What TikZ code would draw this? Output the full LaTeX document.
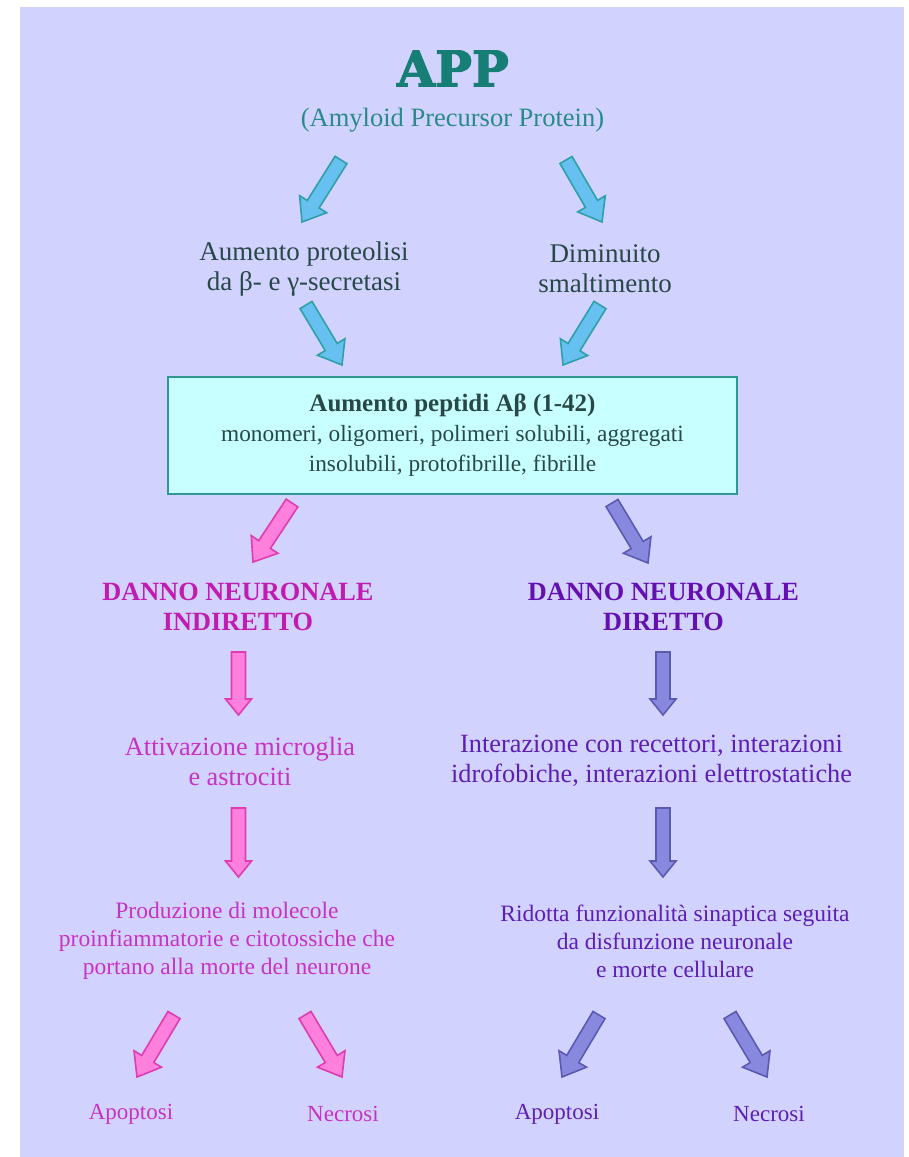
\documentclass[tikz,border=0pt]{standalone}
\usepackage{fontspec}
\setmainfont{Liberation Serif}
\newfontfamily\titlefont[FakeBold=2.5]{DejaVu Serif}
\usetikzlibrary{calc}

% palette
\definecolor{panel}{RGB}{210,210,255}
\definecolor{appteal}{RGB}{23,126,118}
\definecolor{subteal}{RGB}{42,138,138}
\definecolor{slate}{RGB}{40,72,72}
\definecolor{boxfill}{RGB}{200,255,255}
\definecolor{boxedge}{RGB}{50,150,145}
\definecolor{bluefill}{RGB}{102,192,240}
\definecolor{blueedge}{RGB}{48,160,168}
\definecolor{pinkhead}{RGB}{192,28,178}
\definecolor{pinktext}{RGB}{200,50,196}
\definecolor{pinkfill}{RGB}{255,128,220}
\definecolor{pinkedge}{RGB}{222,60,176}
\definecolor{purphead}{RGB}{100,16,176}
\definecolor{purptext}{RGB}{92,30,180}
\definecolor{purpfill}{RGB}{136,136,222}
\definecolor{purpedge}{RGB}{90,90,176}

\tikzset{
  txt/.style={align=center, inner sep=0pt},
  big/.style={txt, font=\fontsize{26.5}{30}\selectfont},
  mid/.style={txt, font=\fontsize{23.3}{30}\selectfont},
  small/.style={txt, font=\fontsize{23.5}{28}\selectfont},
  head/.style={txt, font=\fontsize{26.3}{30}\selectfont\bfseries},
  leaf/.style={txt, font=\fontsize{23}{26}\selectfont},
  blue arrow/.style={fill=bluefill, draw=blueedge, line width=1.6pt, line join=miter},
  pink arrow/.style={fill=pinkfill, draw=pinkedge, line width=1.6pt, line join=miter},
  purple arrow/.style={fill=purpfill, draw=purpedge, line width=1.6pt, line join=miter},
}

% block arrow: #1 style, #2 tail, #3 tip, #4 head half-width, #5 head length
\newcommand\fatarrow[5]{%
  \coordinate (fa-b) at ($(#3)!#5!(#2)$);
  \draw[#1] ($(#2)!7pt!90:(#3)$) -- ($(fa-b)!7pt!90:(#3)$) -- ($(fa-b)!#4!90:(#3)$)
    -- (#3) -- ($(fa-b)!#4!-90:(#3)$) -- ($(fa-b)!7pt!-90:(#3)$) -- ($(#2)!7pt!-90:(#3)$) -- cycle;
}

\begin{document}
\begin{tikzpicture}[x=1pt, y=-1pt]
\useasboundingbox (0,0) rectangle (908,1157);
\fill[white] (0,0) rectangle (908,1157);
\fill[panel] (20,7) rectangle (904,1157);

% title
\node[inner sep=0pt, text=appteal, font=\titlefont\fontsize{49}{56}\selectfont\bfseries] (app) at (453,68.5) {APP};
\node[big, text=subteal] (sub) at (452.5,120) {(Amyloid Precursor Protein)};

% causes
\node[big, font=\fontsize{27}{30}\selectfont, text=slate] (prot) at (304,269) {Aumento proteolisi\\da β- e γ-secretasi};
\node[big, font=\fontsize{27}{30}\selectfont, text=slate] (dimin) at (605,269) {Diminuito\\smaltimento};

% central box
\node[draw=boxedge, line width=2.5pt, fill=boxfill, minimum width=569, minimum height=117,
      mid, text=slate] (abeta) at (452.5,435.5)
  {{\fontsize{25}{30}\selectfont\bfseries Aumento peptidi Aβ (1-42)}\\monomeri, oligomeri, polimeri solubili, aggregati\\insolubili, protofibrille, fibrille};

% two branches
\node[head, text=pinkhead] (ind) at (238,607) {DANNO NEURONALE\\INDIRETTO};
\node[head, text=purphead] (dir) at (663.5,607) {DANNO NEURONALE\\DIRETTO};

\node[big, font=\fontsize{26.3}{30}\selectfont, text=pinktext] (micro) at (240,761) {Attivazione microglia\\e astrociti};
\node[big, font=\fontsize{26.3}{30}\selectfont, text=purptext] (inter) at (651.5,761) {Interazione con recettori, interazioni\\idrofobiche, interazioni elettrostatiche};

\node[small, text=pinktext] (prod) at (227,941) {Produzione di molecole\\proinfiammatorie e citotossiche che\\portano alla morte del neurone};
\node[small, text=purptext] (rid) at (675,941) {Ridotta funzionalità sinaptica seguita\\da disfunzione neuronale\\e morte cellulare};

\node[leaf, text=pinktext] (apo1) at (131,1114) {Apoptosi};
\node[leaf, text=pinktext] (nec1) at (343,1114) {Necrosi};
\node[leaf, text=purptext] (apo2) at (557,1114) {Apoptosi};
\node[leaf, text=purptext] (nec2) at (769,1114) {Necrosi};

% arrow end points
\coordinate (b1s) at (341,160); \coordinate (b1e) at (302,222);
\coordinate (b2s) at (566,160); \coordinate (b2e) at (602,222);
\coordinate (b3s) at (306,305); \coordinate (b3e) at (342,365);
\coordinate (b4s) at (600,305); \coordinate (b4e) at (563,365);
\coordinate (p1s) at (292,503); \coordinate (p1e) at (253,562);
\coordinate (q1s) at (612,503); \coordinate (q1e) at (648,563);
\coordinate (p2s) at (238.5,652); \coordinate (p2e) at (238.5,715);
\coordinate (q2s) at (663,652); \coordinate (q2e) at (663,715);
\coordinate (p3s) at (238.5,808); \coordinate (p3e) at (238.5,877);
\coordinate (q3s) at (663,808); \coordinate (q3e) at (663,877);
\coordinate (p4s) at (174,1015); \coordinate (p4e) at (137,1077);
\coordinate (p5s) at (305,1015); \coordinate (p5e) at (342,1077);
\coordinate (q4s) at (599,1015); \coordinate (q4e) at (562,1077);
\coordinate (q5s) at (730,1015); \coordinate (q5e) at (767,1077);

\fatarrow{blue arrow}{b1s}{b1e}{16pt}{21pt}
\fatarrow{blue arrow}{b2s}{b2e}{16pt}{21pt}
\fatarrow{blue arrow}{b3s}{b3e}{16pt}{21pt}
\fatarrow{blue arrow}{b4s}{b4e}{16pt}{21pt}
\fatarrow{pink arrow}{p1s}{p1e}{16pt}{21pt}
\fatarrow{purple arrow}{q1s}{q1e}{16pt}{21pt}
\fatarrow{pink arrow}{p2s}{p2e}{13pt}{16pt}
\fatarrow{purple arrow}{q2s}{q2e}{13pt}{16pt}
\fatarrow{pink arrow}{p3s}{p3e}{13pt}{16pt}
\fatarrow{purple arrow}{q3s}{q3e}{13pt}{16pt}
\fatarrow{pink arrow}{p4s}{p4e}{16pt}{21pt}
\fatarrow{pink arrow}{p5s}{p5e}{16pt}{21pt}
\fatarrow{purple arrow}{q4s}{q4e}{16pt}{21pt}
\fatarrow{purple arrow}{q5s}{q5e}{16pt}{21pt}
\end{tikzpicture}
\end{document}
